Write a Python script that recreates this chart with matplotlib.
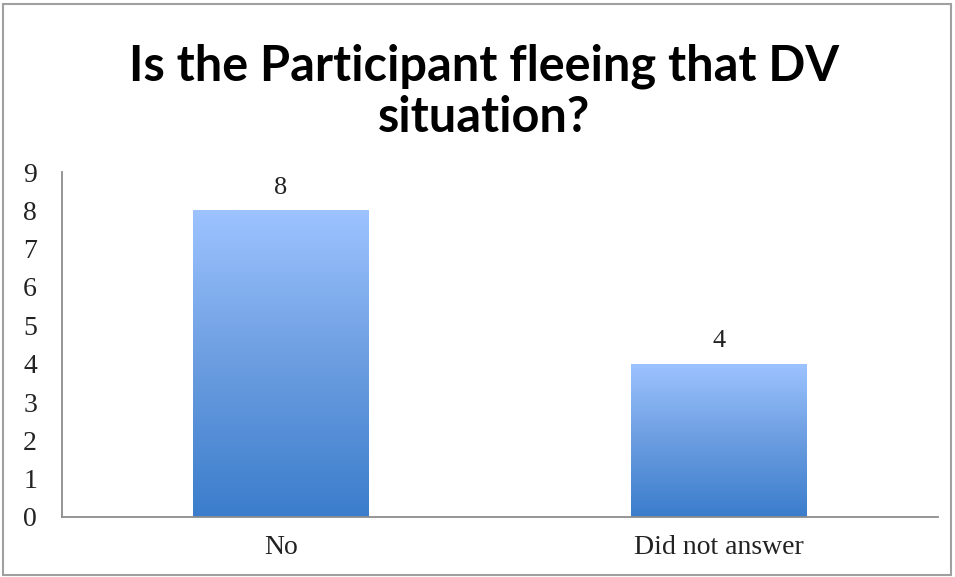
import matplotlib
matplotlib.use("Agg")
import matplotlib.pyplot as plt
import numpy as np
from matplotlib.colors import LinearSegmentedColormap
from matplotlib.patches import Rectangle

categories = ["No", "Did not answer"]
values = [8, 4]
yticks = list(range(0, 10))
title = "Is the Participant fleeing that DV\nsituation?"

fig = plt.figure(figsize=(9.55, 5.77), dpi=100)
ax = fig.add_axes([62/955, 1-517/577, 876/955, 345/577])

cmap = LinearSegmentedColormap.from_list("g", ["#3b7dcc", "#6b9de0", "#9dc3ff"])
grad = np.linspace(0, 1, 256).reshape(-1, 1)

x = np.arange(len(categories))
bars = ax.bar(x, values, width=0.4, color="none", edgecolor="none")
for b, v in zip(bars, values):
    x0, w, h = b.get_x(), b.get_width(), b.get_height()
    im = ax.imshow(grad, extent=[x0, x0 + w, 0, h], origin="lower",
                   cmap=cmap, aspect="auto", zorder=2)
    im.set_clip_path(b)
    ax.text(b.get_x() + w/2, v + 0.3, str(v), ha="center", va="bottom",
            fontsize=19, family="Liberation Serif", color="#222222")

ax.set_xlim(-0.5, 1.5)
ax.set_ylim(0, 9)
ax.set_yticks(yticks)
ax.set_yticklabels([str(t) for t in yticks], family="Liberation Serif", fontsize=20)
ax.set_xticks(x)
ax.set_xticklabels(categories, family="Liberation Serif", fontsize=20)
ax.tick_params(axis="both", length=0, colors="#222222")
ax.tick_params(axis="y", pad=18)
ax.tick_params(axis="x", pad=13)
for s in ["top", "right"]:
    ax.spines[s].set_visible(False)
for s in ["left", "bottom"]:
    ax.spines[s].set_color("#8c8c8c")
    ax.spines[s].set_linewidth(1.3)

fig.text(484/955, 1 - 92/577, title, ha="center", va="center", fontsize=35,
         fontweight="bold", family="Lato", linespacing=1.15)

fig.add_artist(Rectangle((3/955, 2/577), 948/955, 571/577, transform=fig.transFigure,
                         fill=False, edgecolor="#a0a0a0", linewidth=1.5))

fig.savefig("out.png", dpi=100)
